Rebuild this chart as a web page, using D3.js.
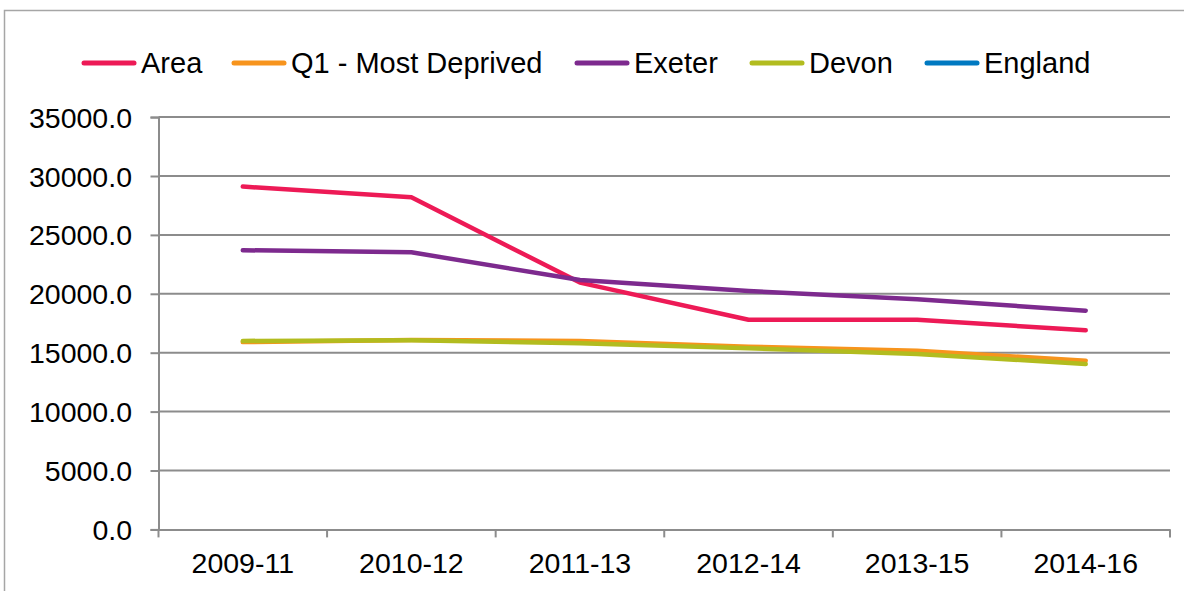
<!DOCTYPE html>
<html>
<head>
<meta charset="utf-8">
<script src="https://cdn.jsdelivr.net/npm/d3@7"></script>
<style>
  html, body { margin: 0; padding: 0; background: #fff; }
  svg { display: block; font-family: "Liberation Sans", Arial, sans-serif; }
</style>
</head>
<body>
<svg id="chart" width="1184" height="591"></svg>
<script>
// Rolling three-year periods
const categories = ["2009-11", "2010-12", "2011-13", "2012-14", "2013-15", "2014-16"];

// Series values per period
const areaValues    = [29100, 28200, 20950, 17800, 17800, 16900];
const q1Values      = [15900, 16080, 15990, 15510, 15170, 14320];
const exeterValues  = [23700, 23520, 21170, 20240, 19530, 18570];
const devonValues   = [16000, 16050, 15800, 15370, 14890, 14040];
const englandValues = [null, null, null, null, null, null];

const seriesNames  = ["Area", "Q1 - Most Deprived", "Exeter", "Devon", "England"];
const seriesColors = ["#ED1A56", "#F7941D", "#7D2A8E", "#B2BC1F", "#0079C1"];

// Value axis ticks
const yTicks = [0, 5000, 10000, 15000, 20000, 25000, 30000, 35000];

const series = seriesNames.map((name, i) => ({
  name,
  color: seriesColors[i],
  values: [areaValues, q1Values, exeterValues, devonValues, englandValues][i]
}));

const svg = d3.select("#chart");
const AXIS_FONT = 28.5;
const LEGEND_FONT = 29;

// outer frame
svg.append("rect")
  .attr("x", 4.5).attr("y", 10.5)
  .attr("width", 1184).attr("height", 620)
  .attr("fill", "none").attr("stroke", "#a6a6a6").attr("stroke-width", 1.5);

const plotLeft = 158.5, plotRight = 1170, plotTop = 117.1, plotBottom = 529.4;

const x = d3.scaleBand().domain(categories).range([plotLeft, plotRight]).paddingInner(0).paddingOuter(0);
const y = d3.scaleLinear().domain([0, 35000]).range([plotBottom, plotTop]);

// horizontal gridlines
svg.append("g")
  .selectAll("line")
  .data(yTicks.filter(t => t > 0))
  .join("line")
  .attr("x1", plotLeft).attr("x2", plotRight)
  .attr("y1", d => y(d)).attr("y2", d => y(d))
  .attr("stroke", "#8c8c8c").attr("stroke-width", 2);

// y axis
const yAxis = svg.append("g")
  .attr("transform", `translate(${plotLeft},0)`)
  .call(d3.axisLeft(y).tickValues(yTicks).tickSize(8).tickPadding(0).tickFormat(d3.format(".1f")));
yAxis.select(".domain").attr("stroke", "#8c8c8c").attr("stroke-width", 2);
yAxis.selectAll(".tick line").attr("stroke", "#8c8c8c").attr("stroke-width", 2);
yAxis.selectAll(".tick text")
  .attr("x", -26.5).attr("dy", null).attr("y", 10)
  .attr("font-size", AXIS_FONT)
  .attr("font-family", "Liberation Sans, Arial, sans-serif")
  .attr("fill", "#000");

// x axis with ticks at category boundaries
const xAxis = svg.append("g")
  .attr("transform", `translate(0,${plotBottom})`)
  .call(d3.axisBottom(x).tickSize(0).tickPadding(0));
xAxis.select(".domain").attr("stroke", "#8c8c8c").attr("stroke-width", 2);
xAxis.selectAll(".tick text")
  .attr("dy", null).attr("y", 44)
  .attr("font-size", AXIS_FONT)
  .attr("font-family", "Liberation Sans, Arial, sans-serif")
  .attr("fill", "#000");
const boundaries = categories.map(c => x(c)).concat([x(categories[categories.length - 1]) + x.bandwidth()]);
xAxis.append("g").selectAll("line")
  .data(boundaries)
  .join("line")
  .attr("x1", d => d).attr("x2", d => d)
  .attr("y1", 0).attr("y2", 8)
  .attr("stroke", "#8c8c8c").attr("stroke-width", 2);

// series lines
const line = d3.line()
  .defined(d => d.v != null)
  .x(d => x(d.c) + x.bandwidth() / 2)
  .y(d => y(d.v));

svg.append("g")
  .selectAll("path")
  .data(series)
  .join("path")
  .attr("d", s => line(s.values.map((v, i) => ({ c: categories[i], v }))))
  .attr("fill", "none")
  .attr("stroke", s => s.color)
  .attr("stroke-width", 4.5)
  .attr("stroke-linejoin", "round")
  .attr("stroke-linecap", "round");

// legend
const legendX = [82, 232, 575, 750, 925];
const legendY = 63;
const legend = svg.append("g")
  .selectAll("g")
  .data(series)
  .join("g")
  .attr("transform", (d, i) => `translate(${legendX[i]},${legendY})`);
legend.append("line")
  .attr("x1", 2).attr("x2", 52)
  .attr("stroke", d => d.color)
  .attr("stroke-width", 5)
  .attr("stroke-linecap", "round");
legend.append("text")
  .attr("x", 59).attr("y", 10)
  .attr("font-size", LEGEND_FONT)
  .attr("fill", "#000")
  .text(d => d.name);
</script>
</body>
</html>
